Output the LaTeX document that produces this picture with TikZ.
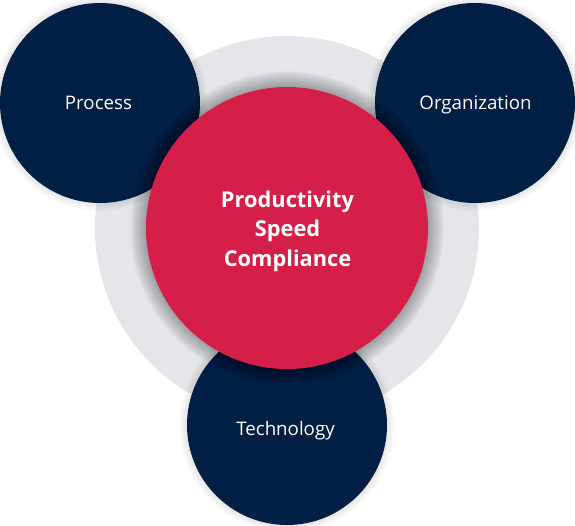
\documentclass[tikz,border=0pt]{standalone}
\usepackage{fontspec}
\setmainfont{Open Sans}
\definecolor{navy}{RGB}{1,30,69}
\definecolor{crimson}{RGB}{213,31,72}
\definecolor{ringgrey}{RGB}{229,230,234}
\begin{document}
\begin{tikzpicture}[x=1pt,y=-1pt,
  pillar/.style={circle, fill=navy, minimum size=200pt, inner sep=0pt},
  core/.style={circle, fill=crimson, minimum size=282pt, inner sep=0pt},
  pillartext/.style={anchor=base, inner sep=0pt, text=white, font=\fontsize{18.7}{22}\selectfont},
  coretext/.style={anchor=base, inner sep=0pt, text=white, font=\fontsize{21.8}{29.5}\selectfont\bfseries}]
\useasboundingbox (0,0) rectangle (575,525);
\node[circle, fill=ringgrey, minimum size=384pt, inner sep=0pt] (ring) at (287,228) {};
% faint shadows of the outer circles
\foreach \c in {(100,103),(475,103),(287,425)}{
  \foreach \k in {1,...,8}{
    \fill[black, fill opacity=0.012] \c circle[radius=100+\k];
  }
}
\node[pillar] (process) at (100,103) {};
\node[pillar] (org) at (475,103) {};
\node[pillar] (tech) at (287,425) {};
% soft shadow of the core circle
\foreach \k in {1,...,16}{
  \fill[black, fill opacity=0.018] (287,228) circle[radius=141+\k];
}
\node[core] (center) at (287,228) {};
\node[pillartext] (process-t) at (98.5,109.5) {Process};
\node[pillartext] (org-t) at (475.5,109.5) {Organization};
\node[pillartext] (tech-t) at (285.5,435) {Technology};
\node[coretext] (l1) at (287.5,207) {Productivity};
\node[coretext] (l2) at (287.5,236.5) {Speed};
\node[coretext] (l3) at (287.5,266) {Compliance};
\end{tikzpicture}
\end{document}
